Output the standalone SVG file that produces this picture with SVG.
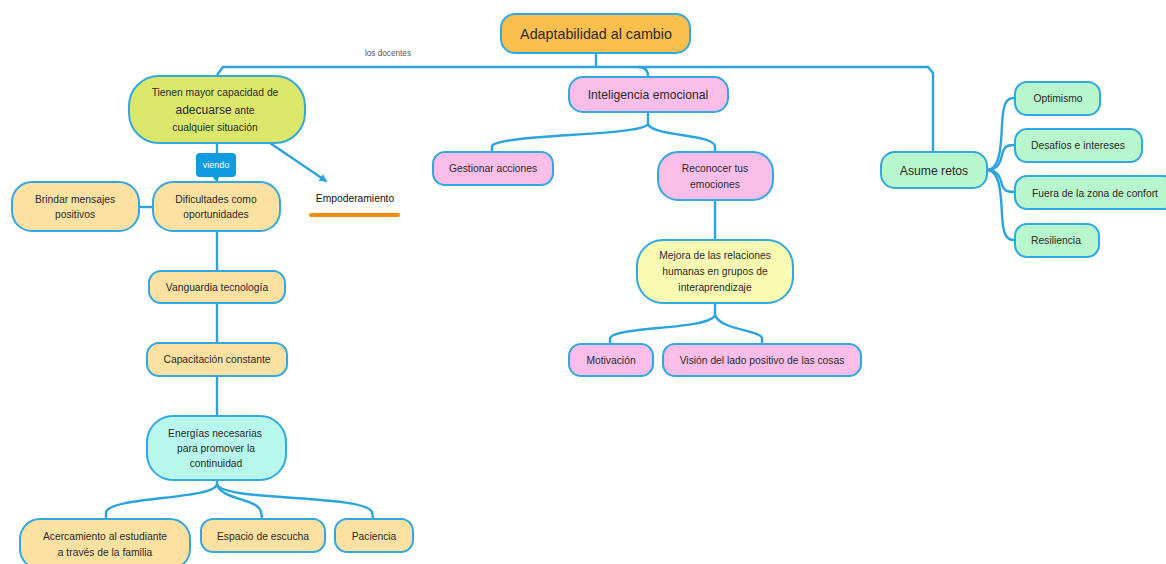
<svg xmlns="http://www.w3.org/2000/svg" width="1166" height="564" viewBox="0 0 1166 564">
<defs>
<style>
.n{stroke:#31a8e0;stroke-width:2}
.t{font-family:"Liberation Sans",Arial,sans-serif;font-size:10.3px;fill:#2a2a2a;text-anchor:middle}
.big{font-size:12.2px}
.c{fill:none;stroke:#2ba4de;stroke-width:2.4}
.or{fill:#fde1a3}.pk{fill:#fbbee9}.gr{fill:#b8f6cd}.cy{fill:#b8f7ec}.ye{fill:#fafbb3}
</style>
<marker id="ah" viewBox="0 0 10 10" refX="8" refY="5" markerUnits="userSpaceOnUse" markerWidth="8" markerHeight="8" orient="auto">
<path d="M0,0 L10,5 L0,10 z" fill="#2ba4de"/>
</marker>
</defs>
<rect width="1166" height="564" fill="#ffffff"/>
<g id="connectors">
<path class="c" d="M596,53 L596,67"/>
<path class="c" d="M217,75 L223,67 L928,67 L933,73 L933,151"/>
<path class="c" d="M638,67 C645,67 648,70 648,76"/>
<path class="c" d="M217,143 L217,181"/>
<path class="c" d="M270,143 L326,181" stroke-width="1.8" marker-end="url(#ah)"/>
<path class="c" d="M139,207 L152,207"/>
<path class="c" d="M217,231 L217,270"/>
<path class="c" d="M217,303 L217,342"/>
<path class="c" d="M217,376 L217,415"/>
<path class="c" d="M217,480 L217,484 C215,500 112,496 106,512 L106,518"/>
<path class="c" d="M217,484 C220,500 258,498 261,512 L262,518"/>
<path class="c" d="M217,484 C222,502 365,494 372,512 L373,518"/>
<path class="c" d="M648,112 L648,124 C643,136 498,134 492,146 L492,151"/>
<path class="c" d="M648,124 C652,136 712,134 715,146 L715,151"/>
<path class="c" d="M715,200 L715,240"/>
<path class="c" d="M715,303 L715,315 C710,330 615,326 610,338 L610,343"/>
<path class="c" d="M715,315 C720,330 760,330 762,338 L762,343"/>
<path class="c" d="M987,170 C999,170 1001,150 1002,125 C1003,104 1006,98 1014,98"/>
<path class="c" d="M987,170 C999,170 1001,160 1002,155 C1004,147 1006,145 1014,145"/>
<path class="c" d="M987,170 C999,170 1001,180 1002,185 C1004,190 1006,192 1014,192"/>
<path class="c" d="M987,170 C999,170 1001,190 1002,215 C1003,234 1006,240 1014,240"/>
<rect x="309" y="213" width="91" height="4" rx="2" fill="#fc8c0a"/>
</g>
<text x="388" y="56" class="t" style="font-size:8.2px;fill:#555">los docentes</text>
<g id="viendo">
<rect x="196" y="153" width="40" height="24" rx="4" fill="#0e9be0"/>
<path d="M212,176 L216,181 L220,176 z" fill="#0e9be0"/>
<text x="216" y="168" class="t" style="font-size:9px;fill:#fff">viendo</text>
</g>
<g id="root">
<rect x="501" y="14" width="189" height="39" rx="14" class="n" fill="#fbbf4e"/>
<text x="596" y="39" class="t" style="font-size:14.3px">Adaptabilidad al cambio</text>
</g>
<g id="tienen">
<rect x="129" y="76" width="176" height="67" rx="30" class="n" fill="#dbe76b"/>
<text x="215" y="96" class="t">Tienen mayor capacidad de</text>
<text x="215" y="114" class="t"><tspan style="font-size:12px">adecuarse</tspan>  ante</text>
<text x="215" y="131" class="t">cualquier situación</text>
</g>
<g id="empoderamiento">
<text x="355" y="202" class="t" style="fill:#111">Empoderamiento</text>
</g>
<g id="brindar">
<rect x="12" y="182" width="127" height="49" rx="20" class="n or"/>
<text x="75" y="203" class="t">Brindar mensajes</text>
<text x="75" y="218" class="t">positivos</text>
</g>
<g id="dificultades">
<rect x="153" y="182" width="127" height="49" rx="20" class="n or"/>
<text x="216" y="203" class="t">Dificultades como</text>
<text x="216" y="218" class="t">oportunidades</text>
</g>
<g id="vanguardia">
<rect x="149" y="271" width="136" height="32" rx="12" class="n or"/>
<text x="217" y="291" class="t">Vanguardia tecnología</text>
</g>
<g id="capacitacion">
<rect x="147" y="343" width="140" height="33" rx="12" class="n or"/>
<text x="217" y="363" class="t">Capacitación constante</text>
</g>
<g id="energias">
<rect x="147" y="416" width="139" height="64" rx="26" class="n cy"/>
<text x="215" y="437" class="t">Energías necesarias</text>
<text x="216" y="452" class="t">para promover la</text>
<text x="216" y="467" class="t">continuidad</text>
</g>
<g id="acercamiento">
<rect x="20" y="519" width="170" height="50" rx="20" class="n or"/>
<text x="105" y="540" class="t">Acercamiento al estudiante</text>
<text x="105" y="556" class="t">a través de la familia</text>
</g>
<g id="espacio">
<rect x="201" y="519" width="124" height="33" rx="12" class="n or"/>
<text x="263" y="540" class="t">Espacio de escucha</text>
</g>
<g id="paciencia">
<rect x="335" y="519" width="78" height="33" rx="12" class="n or"/>
<text x="374" y="540" class="t">Paciencia</text>
</g>
<g id="inteligencia">
<rect x="569" y="77" width="159" height="35" rx="14" class="n pk"/>
<text x="648" y="99" class="t big">Inteligencia emocional</text>
</g>
<g id="gestionar">
<rect x="433" y="152" width="120" height="33" rx="12" class="n pk"/>
<text x="493" y="172" class="t">Gestionar acciones</text>
</g>
<g id="reconocer">
<rect x="658" y="152" width="115" height="48" rx="20" class="n pk"/>
<text x="715" y="172" class="t">Reconocer tus</text>
<text x="715" y="188" class="t">emociones</text>
</g>
<g id="mejora">
<rect x="637" y="240" width="156" height="63" rx="26" class="n ye"/>
<text x="715" y="259" class="t">Mejora de las relaciones</text>
<text x="715" y="275" class="t">humanas en grupos de</text>
<text x="715" y="291" class="t">interaprendizaje</text>
</g>
<g id="motivacion">
<rect x="569" y="344" width="84" height="32" rx="12" class="n pk"/>
<text x="611" y="364" class="t">Motivación</text>
</g>
<g id="vision">
<rect x="663" y="344" width="198" height="32" rx="12" class="n pk"/>
<text x="762" y="364" class="t">Visión del lado positivo de las cosas</text>
</g>
<g id="asume">
<rect x="881" y="152" width="106" height="36" rx="14" class="n gr"/>
<text x="934" y="175" class="t big">Asume retos</text>
</g>
<g id="optimismo">
<rect x="1015" y="82" width="85" height="33" rx="12" class="n gr"/>
<text x="1058" y="102" class="t">Optimismo</text>
</g>
<g id="desafios">
<rect x="1015" y="129" width="127" height="33" rx="12" class="n gr"/>
<text x="1078" y="149" class="t">Desafíos e intereses</text>
</g>
<g id="fuera">
<rect x="1015" y="176" width="160" height="33" rx="12" class="n gr"/>
<text x="1095" y="197" class="t">Fuera de la zona de confort</text>
</g>
<g id="resiliencia">
<rect x="1015" y="224" width="84" height="33" rx="12" class="n gr"/>
<text x="1056" y="244" class="t">Resiliencia</text>
</g>
</svg>
